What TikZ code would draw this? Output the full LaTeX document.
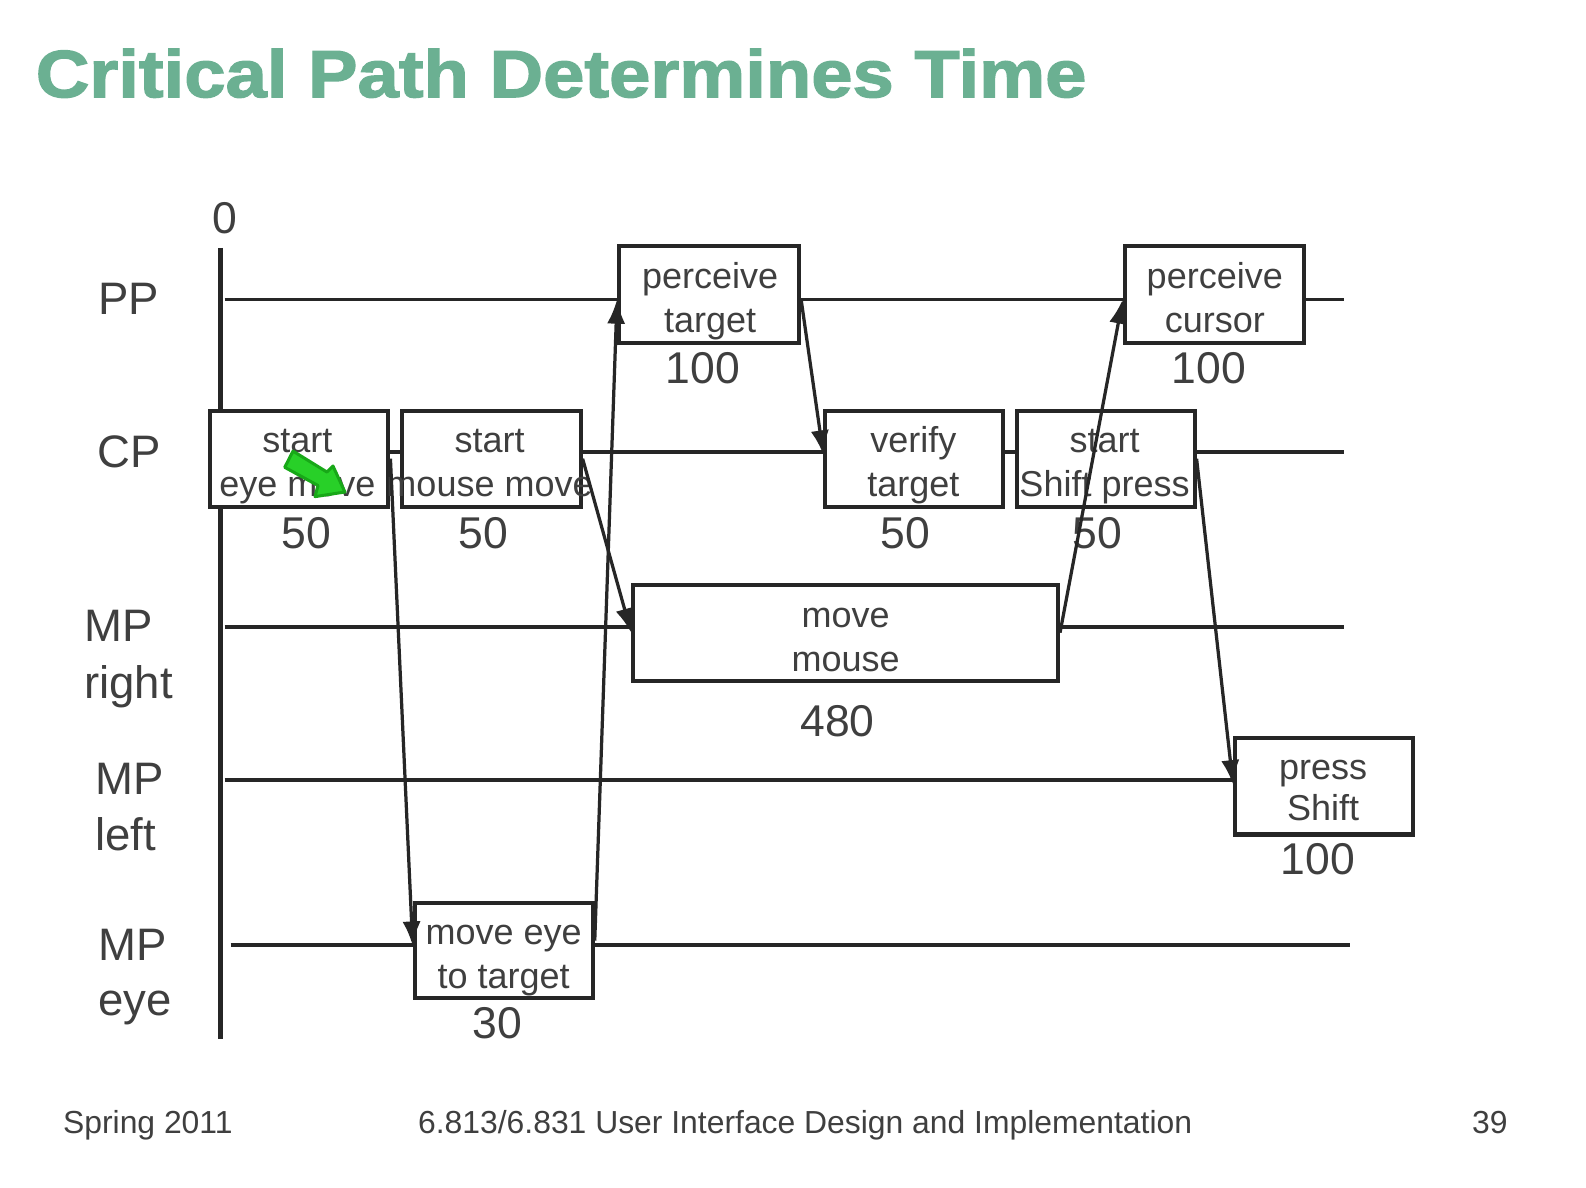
\documentclass[tikz,border=0pt]{standalone}
\usepackage{fontspec}
\setmainfont{Liberation Sans}
\newfontfamily\ttlfont[FakeBold=2,FakeStretch=1.112]{Liberation Sans Bold}
\usetikzlibrary{arrows.meta}
\definecolor{ink}{HTML}{262626}
\definecolor{txt}{HTML}{3F3F3F}
\definecolor{ttl}{HTML}{6BB092}
\definecolor{ptrfill}{HTML}{28D028}
\definecolor{ptredge}{HTML}{18A818}
\tikzset{
  taskbox/.style={draw=ink,line width=2pt,fill=white,inner sep=0pt,minimum height=47.5pt},
  tl/.style={draw=ink,line width=1.8pt},
  axisline/.style={draw=ink,line width=2pt},
  dep/.style={draw=ink,line width=1.6pt,-{Latex[length=12pt,width=9pt]}},
  tasktext/.style={text=txt,font=\fontsize{17.8}{21.5}\selectfont,align=center,inner sep=0pt},
  num/.style={text=txt,font=\fontsize{22}{26}\selectfont,inner sep=0pt,anchor=base},
  lane/.style={text=txt,font=\fontsize{22.5}{28}\selectfont,inner sep=0pt,anchor=base west},
  foot/.style={text=txt,font=\fontsize{15.75}{18}\selectfont,inner sep=0pt,anchor=base west},
}
\begin{document}
\begin{tikzpicture}[x=0.5pt,y=-0.5pt]
\useasboundingbox[fill=white] (0,0) rectangle (1568,1174.5);

\node[text=ttl,font=\ttlfont\fontsize{33}{38}\selectfont,inner sep=0pt,anchor=base west] (title) at (35,96) {Critical Path Determines Time};

% axis and lane starts
\coordinate (axT) at (218,245);
\coordinate (axB) at (218,1027);
\draw[axisline] (axT) -- (axB);
\coordinate (ppL) at (222,296);  \coordinate (ppR) at (1329,296);
\coordinate (cpR) at (1329,447);
\coordinate (mrL) at (222,620);  \coordinate (mrR) at (1329,620);
\coordinate (mlL) at (222,771);
\coordinate (meL) at (228,934);  \coordinate (meR) at (1335,934);
\coordinate (cpM) at (574,447);

% boxes
\node[taskbox,minimum width=89pt,minimum height=48pt] (percT) at (701,291) {};
\node[taskbox,minimum width=88.5pt,minimum height=48pt] (percC) at (1200.5,291) {};
\node[taskbox,minimum width=88pt] (eye) at (296,453.5) {};
\node[taskbox,minimum width=88.5pt] (mouse) at (485.5,453.5) {};
\node[taskbox,minimum width=88pt] (verify) at (904,453.5) {};
\node[taskbox,minimum width=88pt] (shift) at (1093,453.5) {};
\node[taskbox,minimum width=210pt] (mm) at (836,625.5) {};
\node[taskbox,minimum width=88pt] (press) at (1309,777.5) {};
\node[taskbox,minimum width=88pt,minimum height=47pt] (me) at (498,940) {};

% timelines
\draw[tl] (ppL) -- (ppL -| percT.west);
\draw[tl] (ppL -| percT.east) -- (ppL -| percC.west);
\draw[tl] (ppL -| percC.east) -- (ppR);
\draw[tl] (cpM -| eye.east) -- (cpM -| mouse.west);
\draw[tl] (cpM -| mouse.east) -- (cpM -| verify.west);
\draw[tl] (cpM -| verify.east) -- (cpM -| shift.west);
\draw[tl] (cpM -| shift.east) -- (cpR);
\draw[tl] (mrL) -- (mrL -| mm.west);
\draw[tl] (mrL -| mm.east) -- (mrR);
\draw[tl] (mlL) -- (mlL -| press.west);
\draw[tl] (meL) -- (meL -| me.west);
\draw[tl] (meL -| me.east) -- (meR);

% box texts
\node[tasktext] (t1) at (294,460.5) {\strut start\\\strut eye move};
\node[tasktext] (t2) at (484,460.5) {\strut start\\\strut mouse move};
\node[tasktext] (t3) at (702,298.5) {\strut perceive\\\strut target};
\node[tasktext] (t4) at (1201,298.5) {\strut perceive\\\strut cursor};
\node[tasktext] (t5) at (903,460.5) {\strut verify\\\strut target};
\node[tasktext] (t6) at (1092,460.5) {\strut start\\\strut Shift press};
\node[tasktext] (t7) at (836,633.5) {\strut move\\\strut mouse};
\node[tasktext,font=\fontsize{17.8}{20}\selectfont] (t8) at (1308,783) {\strut press\\\strut Shift};
\node[tasktext] (t9) at (498,947) {\strut move eye\\\strut to target};

% durations
\node[num] (n1) at (695,379) {100};
\node[num] (n2) at (1195,379) {100};
\node[num] (n3) at (303,542) {50};
\node[num] (n4) at (478,542) {50};
\node[num] (n5) at (895,542) {50};
\node[num] (n6) at (1085,542) {50};
\node[num] (n7) at (828,728) {480};
\node[num] (n8) at (1303,865) {100};
\node[num] (n9) at (492,1027) {30};
\node[num] (zero) at (222,231) {0};

% lane labels
\node[lane] (l1) at (97,311) {PP};
\node[lane] (l2) at (96,462) {CP};
\node[lane] (l3a) at (83,634) {MP};
\node[lane] (l3b) at (83,691) {right};
\node[lane] (l4a) at (94,785) {MP};
\node[lane] (l4b) at (94,841) {left};
\node[lane] (l5a) at (97,950) {MP};
\node[lane] (l5b) at (97,1004) {eye};

% dependencies
\draw[dep] (eye.east) -- ([yshift=2.5pt]me.west);
\draw[dep] ([yshift=5pt]me.east) -- ([yshift=-2.5pt]percT.west);
\draw[dep] (mouse.east) -- (mm.west);
\draw[dep] ([yshift=-2.5pt]percT.east) -- ([yshift=2pt]verify.west);
\draw[dep] (mm.east) -- ([yshift=-2.5pt]percC.west);
\draw[dep] (shift.east) -- ([yshift=1pt]press.west);

% green pointer
\draw[draw=ptredge,fill=ptrfill,line width=1.5pt,line join=round]
  (289.7,446) -- (323.3,466.7) -- (329.2,460.7) -- (341,486.4) -- (311.4,491) -- (314.4,480) -- (281.5,462) -- cycle;

% footer
\node[foot] (f1) at (62,1121) {Spring 2011};
\node[foot] (f2) at (413,1121) {6.813/6.831 User Interface Design and Implementation};
\node[foot] (f3) at (1455,1121) {39};
\end{tikzpicture}
\end{document}
